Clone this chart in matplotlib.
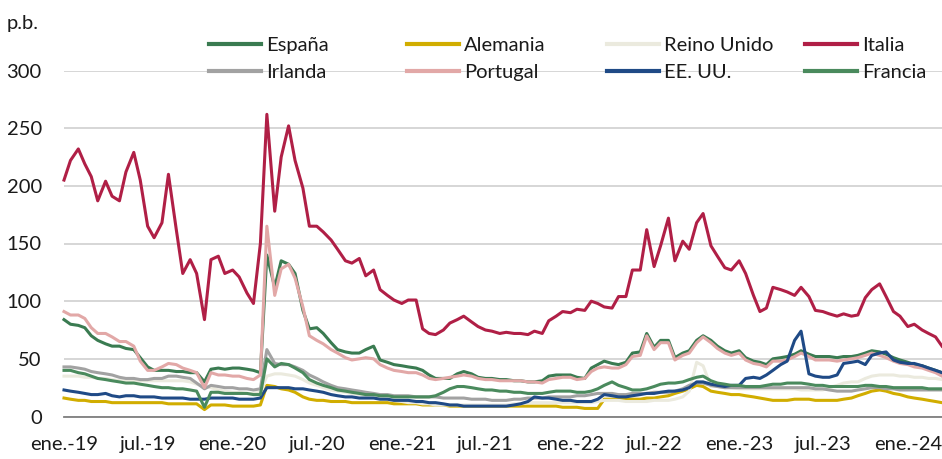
import numpy as np
import pandas as pd
import matplotlib
matplotlib.use('Agg')
import matplotlib.pyplot as plt

plt.rcParams['font.family'] = ['Lato', 'DejaVu Sans']

# fechas quincenales (dia 1 y 15 de cada mes)
fechas = pd.date_range('2019-01-01', '2024-03-15', freq='SMS')

espana = [84, 80, 79, 77, 70, 66, 63, 61, 61, 59, 58, 51, 43, 40, 40, 40, 39, 39, 38, 38, 30, 41, 42, 41,
          42, 42, 41, 40, 38, 140, 112, 135, 132, 124, 92, 76, 77, 72, 64, 58, 56, 55, 55, 58, 61, 49, 47, 45,
          44, 43, 42, 40, 36, 33, 33, 33, 37, 39, 37, 34, 33, 33, 32, 32, 31, 31, 30, 30, 31, 35, 36, 36,
          36, 34, 33, 42, 45, 48, 46, 45, 47, 55, 56, 72, 60, 66, 66, 51, 55, 57, 66, 70, 66, 61, 57, 55,
          57, 51, 48, 47, 45, 50, 51, 52, 54, 57, 54, 52, 52, 52, 51, 52, 52, 53, 55, 57, 56, 54, 51, 49,
          47, 45, 44, 42, 40, 38]
alemania = [16, 15, 14, 14, 13, 13, 13, 12, 12, 12, 12, 12, 12, 12, 12, 11, 11, 11, 11, 11, 6, 10, 10, 10,
            9, 9, 9, 9, 10, 27, 26, 24, 23, 21, 17, 15, 14, 14, 13, 13, 13, 12, 12, 12, 12, 12, 12, 11,
            11, 11, 11, 10, 10, 10, 10, 9, 9, 9, 9, 9, 9, 9, 9, 9, 9, 9, 9, 9, 9, 9, 9, 8,
            8, 8, 7, 7, 7, 15, 15, 15, 15, 15, 15, 16, 16, 17, 18, 20, 22, 24, 27, 26, 22, 21, 20, 19,
            19, 18, 17, 16, 15, 14, 14, 14, 15, 15, 15, 14, 14, 14, 14, 15, 16, 18, 20, 22, 23, 22, 20, 19,
            17, 16, 15, 14, 13, 12]
reino_unido = [35, 35, 35, 34, 34, 33, 33, 32, 31, 31, 31, 31, 31, 31, 31, 31, 31, 31, 30, 28, 26, 25, 23, 22,
               21, 21, 20, 20, 21, 35, 37, 37, 36, 35, 32, 29, 27, 25, 23, 22, 21, 20, 19, 18, 17, 16, 15, 14,
               13, 12, 12, 11, 11, 10, 10, 10, 10, 10, 10, 10, 10, 10, 10, 10, 11, 11, 12, 12, 12, 12, 12, 12,
               12, 12, 12, 12, 13, 14, 14, 14, 13, 13, 13, 13, 14, 14, 14, 15, 17, 22, 47, 44, 26, 26, 25, 25,
               24, 24, 24, 24, 24, 24, 24, 24, 24, 23, 23, 23, 23, 25, 27, 29, 30, 30, 33, 35, 36, 36, 36, 35,
               35, 34, 34, 33, 33, 32]
italia = [205, 222, 232, 219, 208, 187, 204, 191, 187, 212, 229, 205, 165, 155, 168, 210, 162, 124, 136, 124, 84, 136, 139, 124,
          127, 121, 107, 98, 150, 262, 178, 225, 252, 222, 198, 165, 165, 160, 153, 145, 135, 133, 137, 122, 127, 110, 105, 101,
          98, 101, 101, 76, 72, 71, 75, 81, 84, 87, 82, 78, 75, 74, 72, 73, 72, 72, 71, 74, 72, 83, 87, 91,
          90, 93, 92, 100, 98, 95, 94, 104, 104, 127, 127, 162, 130, 148, 172, 135, 152, 145, 168, 176, 148, 139, 129, 127,
          135, 124, 105, 91, 94, 112, 110, 108, 105, 112, 104, 92, 91, 89, 87, 89, 87, 88, 103, 110, 115, 104, 91, 87,
          78, 80, 75, 72, 69, 61]
irlanda = [43, 43, 42, 41, 39, 38, 37, 36, 34, 33, 33, 32, 32, 33, 33, 35, 35, 34, 33, 29, 24, 27, 26, 25,
           25, 24, 24, 23, 24, 58, 46, 45, 45, 43, 40, 36, 33, 30, 27, 25, 24, 23, 22, 21, 20, 19, 19, 18,
           18, 18, 17, 17, 17, 17, 16, 16, 16, 16, 15, 15, 15, 14, 14, 14, 15, 15, 16, 16, 16, 17, 17, 17,
           17, 18, 18, 19, 20, 20, 20, 19, 19, 20, 20, 20, 21, 21, 21, 22, 24, 27, 29, 29, 27, 26, 25, 25,
           25, 25, 25, 25, 25, 25, 25, 25, 25, 25, 25, 24, 24, 23, 22, 22, 22, 23, 24, 25, 25, 24, 24, 23,
           23, 23, 23, 23, 23, 23]
portugal = [91, 88, 88, 85, 77, 72, 72, 69, 65, 65, 61, 48, 40, 40, 43, 46, 45, 42, 40, 38, 25, 38, 36, 36,
            35, 35, 33, 32, 36, 165, 105, 128, 132, 120, 95, 70, 66, 63, 58, 55, 51, 49, 50, 51, 50, 45, 42, 40,
            39, 38, 38, 36, 33, 32, 33, 34, 35, 36, 35, 33, 32, 32, 31, 31, 31, 31, 30, 30, 29, 32, 33, 34,
            34, 32, 33, 39, 42, 43, 42, 42, 45, 52, 53, 70, 58, 64, 64, 49, 53, 55, 64, 69, 64, 59, 55, 53,
            55, 49, 46, 45, 43, 48, 48, 49, 52, 55, 52, 49, 49, 49, 48, 49, 50, 51, 53, 55, 53, 51, 48, 46,
            45, 43, 42, 40, 38, 35]
eeuu = [23, 22, 21, 20, 19, 19, 20, 18, 17, 18, 18, 17, 17, 17, 16, 16, 16, 16, 15, 15, 15, 16, 16, 16,
        16, 15, 15, 15, 16, 25, 25, 25, 25, 24, 24, 23, 22, 21, 19, 18, 17, 17, 16, 16, 16, 15, 15, 14,
        14, 14, 13, 13, 12, 12, 11, 10, 10, 9, 9, 9, 9, 9, 9, 9, 10, 11, 13, 17, 16, 16, 15, 14,
        14, 13, 13, 13, 15, 19, 18, 17, 17, 18, 19, 20, 20, 21, 22, 22, 23, 25, 30, 30, 28, 27, 26, 27,
        27, 33, 34, 33, 36, 40, 45, 48, 66, 74, 37, 35, 34, 34, 36, 46, 47, 48, 45, 53, 55, 56, 49, 47,
        46, 46, 44, 42, 40, 38]
francia = [40, 40, 38, 37, 35, 33, 32, 31, 30, 29, 29, 28, 27, 26, 25, 25, 24, 24, 23, 22, 8, 21, 21, 20,
           20, 20, 20, 19, 19, 50, 43, 46, 45, 42, 38, 32, 29, 27, 25, 23, 22, 21, 20, 19, 19, 18, 18, 17,
           17, 17, 17, 17, 17, 18, 21, 24, 26, 26, 25, 24, 23, 23, 22, 22, 21, 21, 20, 20, 20, 21, 22, 22,
           22, 21, 21, 22, 24, 27, 30, 27, 25, 23, 23, 24, 26, 28, 29, 29, 30, 32, 34, 35, 31, 29, 28, 27,
           27, 26, 26, 26, 27, 28, 28, 29, 29, 29, 28, 27, 27, 26, 26, 26, 26, 26, 27, 27, 26, 26, 25, 25,
           25, 25, 25, 24, 24, 24]

nombres = ['España', 'Alemania', 'Reino Unido', 'Italia', 'Irlanda', 'Portugal', 'EE. UU.', 'Francia']
valores = [espana, alemania, reino_unido, italia, irlanda, portugal, eeuu, francia]
colores = ['#3a7b51', '#d1ad00', '#ebeade', '#b01f46', '#a2a2a2', '#e2a8a7', '#1f4a86', '#4a8a5d']

tick_fechas = pd.date_range('2019-01-01', '2024-01-01', freq='6MS')
tick_labels = ['ene.-19', 'jul.-19', 'ene.-20', 'jul.-20', 'ene.-21', 'jul.-21',
               'ene.-22', 'jul.-22', 'ene.-23', 'jul.-23', 'ene.-24']

fs = 14.5
fig = plt.figure(figsize=(9.42, 4.59), dpi=100)
ax = fig.add_axes([64 / 942, 42.5 / 459, 878 / 942, 346 / 459])

lineas = {}
for nombre, vals, color in zip(nombres, valores, colores):
    ln, = ax.plot(fechas, vals, color=color, lw=2.2, label=nombre,
                  solid_joinstyle='round', clip_on=False)
    lineas[nombre] = ln

ax.set_ylim(0, 300)
ax.set_yticks(range(0, 301, 50))
ax.set_xlim(pd.Timestamp('2019-01-01'), pd.Timestamp('2024-03-15'))
ax.set_xticks(tick_fechas)
ax.set_xticklabels(tick_labels)
ax.grid(axis='y', color='#cccccc', lw=1.1)
ax.set_axisbelow(True)
for s in ['top', 'right', 'left']:
    ax.spines[s].set_visible(False)
ax.spines['bottom'].set_color('#7f7f7f')
ax.spines['bottom'].set_linewidth(1.3)
ax.tick_params(axis='both', length=0, labelsize=fs, colors='#1a1a1a')
ax.tick_params(axis='y', pad=16)
ax.tick_params(axis='x', pad=14)

fig.text(7 / 942, 1 - 24 / 459, 'p.b.', fontsize=fs, va='center', ha='left', color='#1a1a1a')

# leyenda en 4 columnas de ancho fijo
columnas = [('España', 'Irlanda'), ('Alemania', 'Portugal'),
            ('Reino Unido', 'EE. UU.'), ('Italia', 'Francia')]
x_cols = [209, 407, 607, 805]
for (a, b), xc in zip(columnas, x_cols):
    leg = fig.legend(handles=[lineas[a], lineas[b]], loc='center left',
                     bbox_to_anchor=(xc / 942, 1 - 59 / 459), frameon=False,
                     borderpad=0, borderaxespad=0, handlelength=2.6, handletextpad=0.25,
                     labelspacing=0.5, fontsize=fs)
    for t in leg.get_texts():
        t.set_color('#1a1a1a')
    for h in leg.legend_handles:
        h.set_linewidth(3)

fig.savefig('out.png', dpi=100)
